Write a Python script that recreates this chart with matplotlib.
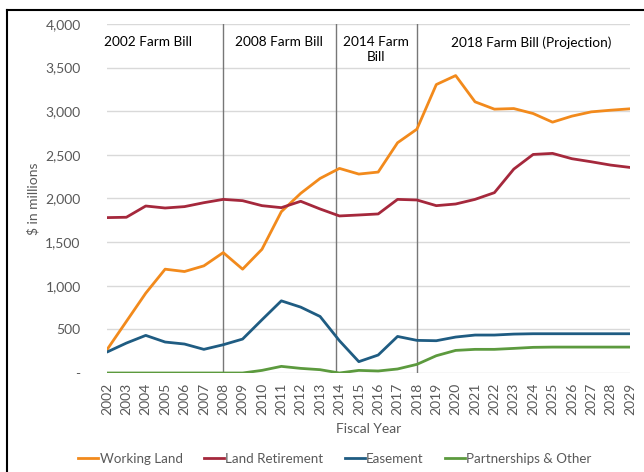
import matplotlib.pyplot as plt
from matplotlib.lines import Line2D
from matplotlib.ticker import FuncFormatter

plt.rcParams['font.family'] = ['Lato', 'DejaVu Sans']

# Datos ($ millones)
years = list(range(2002, 2030))
working_land = [267, 591, 915, 1190, 1163, 1228, 1380, 1190, 1418, 1849, 2059, 2230,
                2345, 2280, 2303, 2639, 2795, 3306, 3409, 3108, 3024, 3031, 2974,
                2875, 2944, 2993, 3012, 3028]
land_retirement = [1781, 1785, 1914, 1891, 1907, 1952, 1990, 1975, 1918, 1895, 1968,
                   1880, 1800, 1811, 1823, 1990, 1983, 1918, 1937, 1990, 2067, 2337,
                   2505, 2517, 2456, 2421, 2383, 2356]
easement = [240, 343, 431, 355, 332, 271, 324, 389, 610, 827, 755, 648, 370, 130,
            206, 419, 374, 370, 412, 435, 435, 446, 450, 450, 450, 450, 450, 450]
partnerships = [0, 0, 0, 0, 0, 0, 0, 0, 30, 76, 53, 38, 0, 30, 23, 46, 99, 198,
                259, 271, 271, 282, 294, 297, 297, 297, 297, 297]

bill_years = [2008, 2014, 2018]
bill_labels = ["2002 Farm Bill", "2008 Farm Bill", "2014 Farm\nBill",
               "2018 Farm Bill (Projection)"]
bill_label_x = [2004.1, 2010.9, 2015.9, 2023.9]

colors = {"Working Land": "#F28A1C", "Land Retirement": "#A5283C",
          "Easement": "#1F5C82", "Partnerships & Other": "#5C9A3E"}

fig = plt.figure(figsize=(6.44, 4.72), dpi=100)
ax = fig.add_axes([107 / 644, 1 - 373 / 472, 523 / 644, 349 / 472])

series = [("Working Land", working_land), ("Land Retirement", land_retirement),
          ("Easement", easement), ("Partnerships & Other", partnerships)]
for name, vals in series:
    ax.plot(years, vals, color=colors[name], lw=2, solid_capstyle='round', zorder=3)

ax.set_xlim(2002, 2029)
ax.set_ylim(0, 4000)
ax.set_yticks(range(0, 4001, 500))
ax.yaxis.set_major_formatter(FuncFormatter(lambda v, p: "-" if v == 0 else f"{int(v):,}"))
ax.set_xticks(years)
ax.set_xticklabels([str(y) for y in years], rotation=90)
ax.tick_params(axis='both', length=0, labelsize=10, colors="#595959")
ax.tick_params(axis='y', pad=19)
ax.tick_params(axis='x', pad=7)
ax.grid(axis='y', color="#D9D9D9", lw=1)
ax.set_axisbelow(True)
for s in ax.spines.values():
    s.set_visible(False)

for by in bill_years:
    ax.axvline(by - (0.2 if by == 2014 else 0), color="#777777", lw=1, zorder=2)
for lx, lab in zip(bill_label_x, bill_labels):
    ax.text(lx, 3860, lab, ha='center', va='top', fontsize=9.8, color="black",
            linespacing=1.25)

ax.set_xlabel("Fiscal Year", fontsize=10, color="#595959", labelpad=6)
ax.set_ylabel("$ in millions", fontsize=10, color="#595959")
ax.yaxis.set_label_coords(-0.13, 0.5)

handles = [Line2D([], [], color=colors[n], lw=2) for n, _ in series]
fig.legend(handles, [n for n, _ in series], loc='center',
           bbox_to_anchor=(335 / 644, 1 - 459 / 472), ncol=4, frameon=False,
           fontsize=9.6, handlelength=1.5, handletextpad=0.1, columnspacing=1.6,
           labelcolor="#595959")

# marco del gráfico (solo visible arriba y a la izquierda)
fig.add_artist(Line2D([7 / 644, 7 / 644], [0, 1 - 10 / 472], color="black", lw=1.5,
                      transform=fig.transFigure))
fig.add_artist(Line2D([7 / 644, 1], [1 - 10 / 472, 1 - 10 / 472], color="black", lw=1.5,
                      transform=fig.transFigure))

fig.savefig("out.png", dpi=100)
